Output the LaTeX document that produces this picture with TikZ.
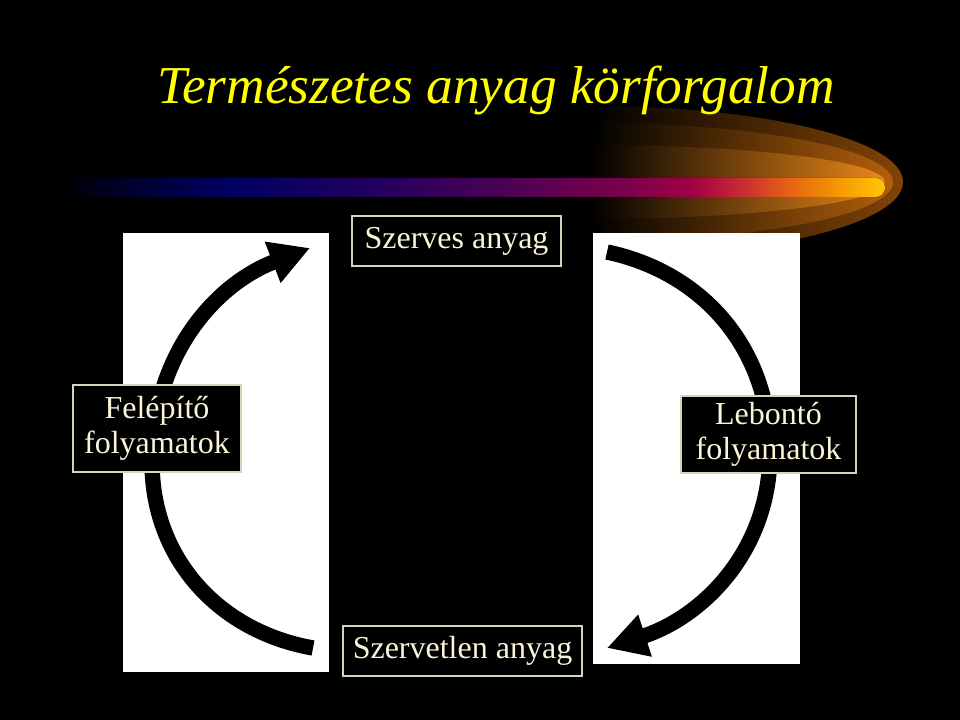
\documentclass[tikz,border=0pt]{standalone}
\usepackage{fontspec}
\setmainfont{Liberation Serif}
\usetikzlibrary{arrows.meta}
\definecolor{titleyellow}{RGB}{255,255,0}
\definecolor{cream}{RGB}{250,245,215}
\definecolor{boxline}{RGB}{215,212,190}
\definecolor{glowA}{RGB}{130,68,6}
\definecolor{glowB}{RGB}{180,95,10}
\definecolor{glowC}{RGB}{235,135,25}
\pgfdeclarehorizontalshading{swoosh}{100bp}{color(0bp)=(black); color(25bp)=(black);
  rgb(29.8bp)=(0,0,0.2); rgb(35.3bp)=(0,0,0.38); rgb(45.6bp)=(0.16,0,0.36);
  rgb(51.6bp)=(0.29,0,0.33); rgb(59bp)=(0.47,0,0.29); rgb(63.2bp)=(0.63,0,0.27);
  rgb(66.2bp)=(0.78,0.16,0.2); rgb(69.2bp)=(0.9,0.39,0.08); rgb(72.2bp)=(0.96,0.6,0);
  rgb(75bp)=(1,0.78,0.04); rgb(100bp)=(1,0.78,0.04)}
\tikzset{
  labelbox/.style = {draw = boxline, line width = 1.1pt, fill = black, text = cream,
                     font = \fontsize{24}{26.5}\selectfont, align = center, inner sep = 0pt},
  cycle arrow/.style = {line width = 11.5pt, -{Triangle[length = 30pt, width = 31pt]}}
}
\begin{document}
\begin{tikzpicture}[x = 0.75pt, y = 0.75pt]
                    \fill[black] (0, 0) rectangle (960, 720);
                    \useasboundingbox (0, 0) rectangle (960, 720);
                    
                    % glow behind the bar
                    \shade[left color = black, right color = glowA] (592, 614) arc[start angle = 90, end angle = -90, x radius = 311, y radius = 76] -- cycle;
                    \shade[left color = black, right color = glowB] (592, 597) arc[start angle = 90, end angle = -90, x radius = 301, y radius = 59] -- cycle;
                    \shade[left color = black, right color = glowC] (592, 575) arc[start angle = 90, end angle = -90, x radius = 293, y radius = 37] -- cycle;
                    \fill[shading = swoosh, rounded corners = 7pt] (60, 523) rectangle (885, 542);
                    
                    \node[anchor = base west, text = titleyellow, font = \fontsize{40}{44}\selectfont\itshape, inner sep = 0pt]
                        (Title) at (157, 616) {Természetes anyag körforgalom};
                    
                    \fill[white] (123,  48) rectangle (329, 487);
                    \fill[white] (593,  56) rectangle (800, 487);
                    
                    \coordinate (FelStart) at (313,  72);
                    \coordinate (FelTip)   at (310, 472);
                    \coordinate (LeStart)  at (607, 468);
                    \coordinate (LeTip)    at (607,  72);
                    
                    \draw[cycle arrow] (FelStart) to[out = 170, in = -90] (152, 258) to[out = 90, in = 201] (FelTip);
                    \draw[cycle arrow] (LeStart) to[out = -12, in = 90] (770, 268) to[out = -90, in = 18] (LeTip);
                    
                    \node[labelbox, minimum width = 156.75pt, minimum height = 37.5pt]  (Szerves)    at (456.5, 479)   {Szerves anyag};
                    \node[labelbox, minimum width = 179.25pt, minimum height = 37.5pt]  (Szervetlen) at (462.5,  69)   {Szervetlen anyag};
                    \node[labelbox, minimum width = 126pt,    minimum height = 65.25pt] (Felepito)   at (157,   291.5) {Felépítő\\folyamatok};
                    \node[labelbox, minimum width = 131.25pt, minimum height = 57.75pt] (Lebonto)    at (768.5, 285.5) {Lebontó\\folyamatok};
                \end{tikzpicture}
\end{document}
